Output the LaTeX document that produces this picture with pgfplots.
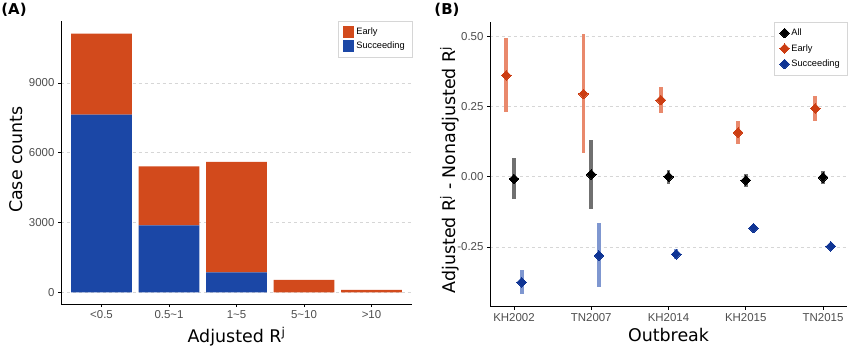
\documentclass[border=0pt]{standalone}
\usepackage{fontspec}
\setmainfont{DejaVu Sans}
\newfontfamily\arial{Liberation Sans}
\usepackage{pgfplots}
\pgfplotsset{compat=1.18}
\definecolor{early}{HTML}{D24A1C}
\definecolor{succ}{HTML}{1B47A6}
\definecolor{earlyPt}{HTML}{CC3D12}
\definecolor{succPt}{HTML}{0F3494}
\definecolor{earlyBar}{HTML}{E9896C}
\definecolor{allBar}{HTML}{707070}
\definecolor{succBar}{HTML}{7F97D0}
\definecolor{tickgray}{HTML}{4D4D4D}
\definecolor{gridgray}{HTML}{D6D6D6}
\pgfplotsset{
  common/.style={
    scale only axis,
    axis x line*=bottom, axis y line*=left,
    axis line style={black, line width=0.9bp},
    tick align=outside, major tick length=3bp,
    tick style={black, line width=0.6bp},
    ymajorgrids, grid style={dashed, gridgray, line width=0.5bp},
    ticklabel style={font=\arial\fontsize{11.5}{13}\selectfont, text=tickgray},
    /pgf/number format/assume math mode=true,
    label style={font=\fontsize{17.5}{20}\selectfont},
    legend cell align=left,
    legend style={at={(1,1)}, anchor=north east, draw=gridgray, line width=0.5bp,
      font=\arial\fontsize{9.3}{10}\selectfont, inner xsep=5bp, inner ysep=5bp,
      row sep=3.3bp},
  }
}
\begin{document}
\begin{tikzpicture}[x=1bp,y=1bp]
\useasboundingbox (0,0) rectangle (850,350);
\node[font=\bfseries\fontsize{15}{17}\selectfont] at (14,340) {(A)};
\node[font=\bfseries\fontsize{15}{17}\selectfont] at (447,340) {(B)};
% Panel A
\begin{axis}[common,
  at={(61bp,46bp)}, anchor=south west, width=351bp, height=283bp,
  xmin=-0.6, xmax=4.6, ymin=-503, ymax=11664,
  ybar stacked, bar width=0.9,
  xtick={0,1,2,3,4},
  xticklabels={<0.5, 0.5\textasciitilde1, 1\textasciitilde5, 5\textasciitilde10, >10},
  ytick={0,3000,6000,9000},
  scaled y ticks=false,
  yticklabel style={/pgf/number format/1000 sep={}},
  xlabel={Adjusted R\textsuperscript{j}},
  ylabel={Case counts},
  xlabel style={at={(axis description cs:0.5,-0.137)}, anchor=base},
  ylabel style={at={(axis description cs:-0.109,0.51)}, anchor=base, rotate=0},
  reverse legend,
  legend style={row sep=1.8bp},
  legend image code/.code={\fill[#1] (0bp,-5.9bp) rectangle (11.5bp,5.9bp);},
]
\addplot[fill=succ, draw=none] coordinates {(0,7636) (1,2880) (2,860) (3,0) (4,0)};
\addlegendentry{Succeeding}
\addplot[fill=early, draw=none] coordinates {(0,3482) (1,2537) (2,4742) (3,529) (4,105)};
\addlegendentry{Early}
\end{axis}
% Panel B
\begin{axis}[common,
  at={(490bp,43.3bp)}, anchor=south west, width=357bp, height=285bp,
  xmin=-0.31, xmax=4.31, ymin=-0.463, ymax=0.552,
  xtick={0,1,2,3,4},
  xticklabels={KH2002, TN2007, KH2014, KH2015, TN2015},
  ytick={-0.25,0,0.25,0.5},
  yticklabel style={/pgf/number format/.cd, fixed, fixed zerofill, precision=2},
  xlabel={Outbreak},
  ylabel={Adjusted R\textsuperscript{j} - Nonadjusted R\textsuperscript{j}},
  xlabel style={at={(axis description cs:0.5,-0.123)}, anchor=base},
  ylabel style={at={(axis description cs:-0.096,0.48)}, anchor=base},
  legend image code/.code={\draw[#1, mark=none, line width=1.5bp, opacity=0.3] (0.45em,-4.5bp) -- (0.45em,4.5bp); \draw[#1] plot coordinates {(0.45em,0bp)};},
]
\addplot[forget plot, only marks, mark=none,
  error bars/.cd, y dir=both, y explicit, error mark=none,
  error bar style={line width=3.8bp, earlyBar}]
  table[x=x, y=y, y error plus=ep, y error minus=em] {
x y ep em
-0.1 0.361 0.134 0.132
0.9 0.295 0.212 0.210
1.9 0.273 0.047 0.045
2.9 0.157 0.040 0.041
3.9 0.243 0.043 0.043
};
\addplot[forget plot, only marks, mark=none,
  error bars/.cd, y dir=both, y explicit, error mark=none,
  error bar style={line width=3.8bp, allBar}]
  table[x=x, y=y, y error plus=ep, y error minus=em] {
x y ep em
0 -0.008 0.073 0.073
1 0.008 0.121 0.122
2 0.000 0.024 0.025
3 -0.013 0.022 0.023
4 -0.002 0.022 0.023
};
\addplot[forget plot, only marks, mark=none,
  error bars/.cd, y dir=both, y explicit, error mark=none,
  error bar style={line width=3.8bp, succBar}]
  table[x=x, y=y, y error plus=ep, y error minus=em] {
x y ep em
0.1 -0.376 0.044 0.043
1.1 -0.281 0.115 0.113
2.1 -0.276 0.017 0.018
3.1 -0.183 0.008 0.008
4.1 -0.248 0.006 0.006
};
\addplot[only marks, color=black, mark=square*, mark size=3.4bp, mark options={rotate=45, draw=black, fill=black, line width=0pt}]
  table {
0 -0.008
1 0.008
2 0.000
3 -0.013
4 -0.002
};
\addlegendentry{All}
\addplot[only marks, color=earlyPt, mark=square*, mark size=3.4bp, mark options={rotate=45, draw=earlyPt, fill=earlyPt, line width=0pt}]
  table {
-0.1 0.361
0.9 0.295
1.9 0.273
2.9 0.157
3.9 0.243
};
\addlegendentry{Early}
\addplot[only marks, color=succPt, mark=square*, mark size=3.4bp, mark options={rotate=45, draw=succPt, fill=succPt, line width=0pt}]
  table {
0.1 -0.376
1.1 -0.281
2.1 -0.276
3.1 -0.183
4.1 -0.248
};
\addlegendentry{Succeeding}
\end{axis}
\end{tikzpicture}
\end{document}
